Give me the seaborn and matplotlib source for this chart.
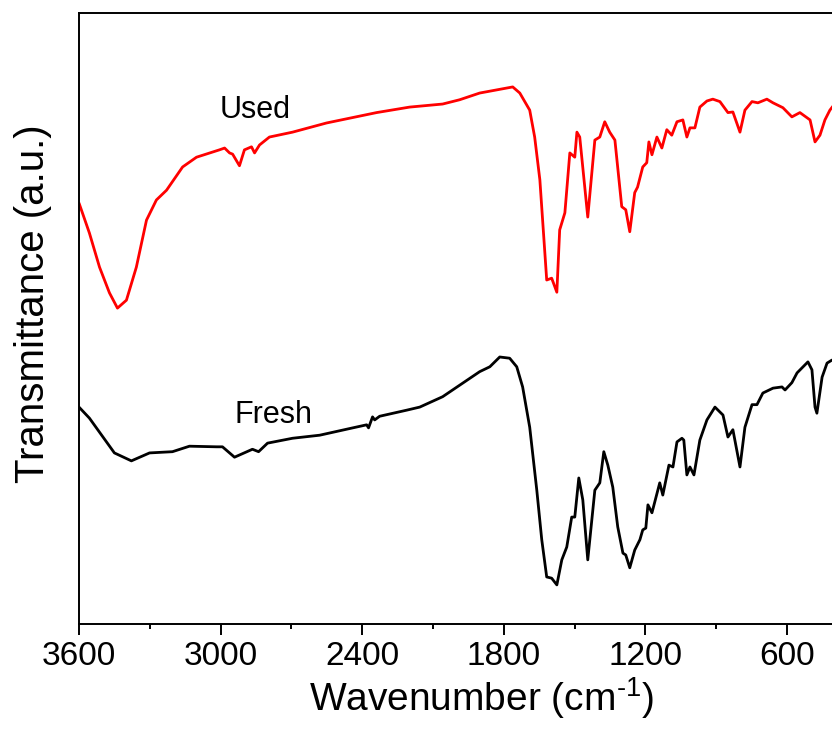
import matplotlib
matplotlib.use("Agg")
import matplotlib.pyplot as plt
import seaborn as sns
import pandas as pd
from matplotlib.ticker import MultipleLocator, NullLocator

# ---- data ----
used_wn = [3600, 3556, 3513, 3471, 3437, 3399, 3357, 3314, 3272, 3229, 3161, 3102,
           3005, 2983, 2962, 2949, 2920, 2899, 2869, 2856, 2835, 2793, 2695, 2551,
           2339, 2199, 2059, 1987, 1902, 1762, 1732, 1690, 1669, 1647, 1618, 1597,
           1575, 1563, 1541, 1520, 1499, 1490, 1478, 1444, 1414, 1393, 1372, 1351,
           1329, 1300, 1283, 1266, 1245, 1233, 1211, 1194, 1185, 1172, 1151, 1130,
           1109, 1088, 1066, 1041, 1024, 1011, 990, 969, 939, 914, 884, 850, 829,
           799, 778, 748, 723, 685, 659, 617, 579, 545, 502, 481, 460, 439, 418, 400]
used_t = [68.9, 64.0, 58.4, 54.2, 51.7, 53.0, 58.4, 66.1, 69.4, 71.0, 74.8, 76.4,
          77.6, 77.9, 77.1, 76.9, 75.0, 77.6, 78.1, 77.1, 78.4, 79.7, 80.5, 82.0,
          83.7, 84.6, 85.1, 85.8, 86.9, 87.9, 86.9, 84.1, 79.7, 72.7, 56.3, 56.6,
          54.3, 64.5, 67.3, 77.1, 76.4, 80.5, 79.7, 66.6, 79.2, 79.7, 82.2, 80.5,
          79.2, 68.3, 67.8, 64.2, 70.6, 71.5, 74.8, 75.5, 78.9, 76.8, 79.7, 77.9,
          80.9, 80.0, 82.2, 82.5, 79.7, 81.2, 81.2, 84.6, 85.6, 85.9, 85.5, 83.7, 83.8,
          80.5, 84.1, 85.5, 85.3, 85.9, 85.3, 84.5, 83.0, 83.7, 82.5, 78.9, 80.0, 82.5, 84.1, 85.0]

fresh_wn = [3600, 3556, 3450, 3378, 3301, 3204, 3132, 3017, 2992, 2941, 2865, 2839,
            2801, 2695, 2580, 2440, 2381, 2373, 2356, 2347, 2326, 2211, 2156, 2059,
            1902, 1859, 1817, 1775, 1745, 1720, 1690, 1660, 1639, 1618, 1597, 1575,
            1554, 1533, 1512, 1499, 1482, 1465, 1444, 1414, 1393, 1376, 1359, 1338,
            1317, 1295, 1283, 1266, 1245, 1223, 1211, 1198, 1189, 1172, 1139, 1126,
            1100, 1083, 1066, 1045, 1037, 1024, 1011, 994, 969, 939, 905, 871, 850,
            829, 799, 778, 748, 727, 702, 659, 621, 608, 579, 557, 511, 494, 481, 473,
            451, 430, 409]
fresh_t = [35.5, 33.7, 28.0, 26.7, 28.0, 28.2, 29.1, 29.0, 29.0, 27.3, 28.6, 28.2,
           29.6, 30.4, 30.9, 32.1, 32.6, 32.1, 33.9, 33.4, 34.0, 35.0, 35.5, 37.2,
           41.3, 42.1, 43.7, 43.5, 42.1, 38.8, 32.2, 21.9, 13.8, 7.7, 7.5, 6.4,
           10.5, 12.6, 17.5, 17.5, 23.9, 20.3, 10.5, 21.9, 23.1, 28.2, 26.0, 22.4,
           15.9, 11.6, 11.3, 9.2, 12.1, 13.8, 15.4, 15.7, 19.5, 18.2, 23.1, 21.1,
           26.0, 25.7, 29.8, 30.4, 30.1, 24.4, 25.7, 24.4, 30.1, 33.4, 35.5, 34.2, 30.6,
           31.8, 25.7, 32.2, 35.9, 35.9, 37.8, 38.6, 38.8, 38.3, 39.5, 41.1, 42.9, 41.6, 35.5, 34.5,
           40.4, 42.7, 43.2]

series_names = ["Used", "Fresh"]
series_colors = ["#ff0000", "#000000"]
label_pos = {"Used": (2852, 82.8), "Fresh": (2776, 32.9)}

df = pd.concat([
    pd.DataFrame({"wn": used_wn, "T": used_t, "sample": "Used"}),
    pd.DataFrame({"wn": fresh_wn, "T": fresh_t, "sample": "Fresh"}),
])

sns.set_style("white")
plt.rcParams["font.family"] = ["Liberation Sans", "DejaVu Sans"]
plt.rcParams["mathtext.fontset"] = "custom"
plt.rcParams["mathtext.rm"] = "Liberation Sans"
plt.rcParams["mathtext.it"] = "Liberation Sans"
plt.rcParams["mathtext.default"] = "regular"
plt.rcParams["text.color"] = "black"
plt.rcParams["axes.labelcolor"] = "black"
plt.rcParams["xtick.color"] = "black"

fig = plt.figure(figsize=(8.32, 7.35), dpi=100)
ax = fig.add_axes([79 / 832, 1 - 624 / 735, 1 - 79 / 832, (624 - 13) / 735])

sns.lineplot(data=df, x="wn", y="T", hue="sample", hue_order=series_names,
             palette=dict(zip(series_names, series_colors)), estimator=None,
             linewidth=2.0, legend=False, ax=ax)

ax.set_xlim(3600, 409)
ax.set_ylim(0, 100)
ax.xaxis.set_major_locator(MultipleLocator(600))
ax.xaxis.set_minor_locator(MultipleLocator(300))
ax.yaxis.set_major_locator(NullLocator())
ax.tick_params(axis="x", which="major", direction="out", length=8, width=1.4,
               bottom=True, top=False, pad=4, labelsize=24, colors="black")
ax.tick_params(axis="x", which="minor", direction="out", length=3.5, width=1.4,
               bottom=True, top=False, colors="black")

for side in ["left", "top", "bottom"]:
    ax.spines[side].set_linewidth(1.4)
    ax.spines[side].set_color("black")
ax.spines["right"].set_visible(False)

ax.set_xlabel("Wavenumber (cm$^{\\text{-1}}$)", fontsize=28)
ax.xaxis.set_label_coords(0.534, -0.083)
ax.set_ylabel("Transmittance (a.u.)", fontsize=29)
ax.yaxis.set_label_coords(-0.036, 0.524)

for name in series_names:
    x, y = label_pos[name]
    ax.text(x, y, name, fontsize=22, ha="center", va="baseline", color="black")

fig.savefig("out.png", dpi=100)
